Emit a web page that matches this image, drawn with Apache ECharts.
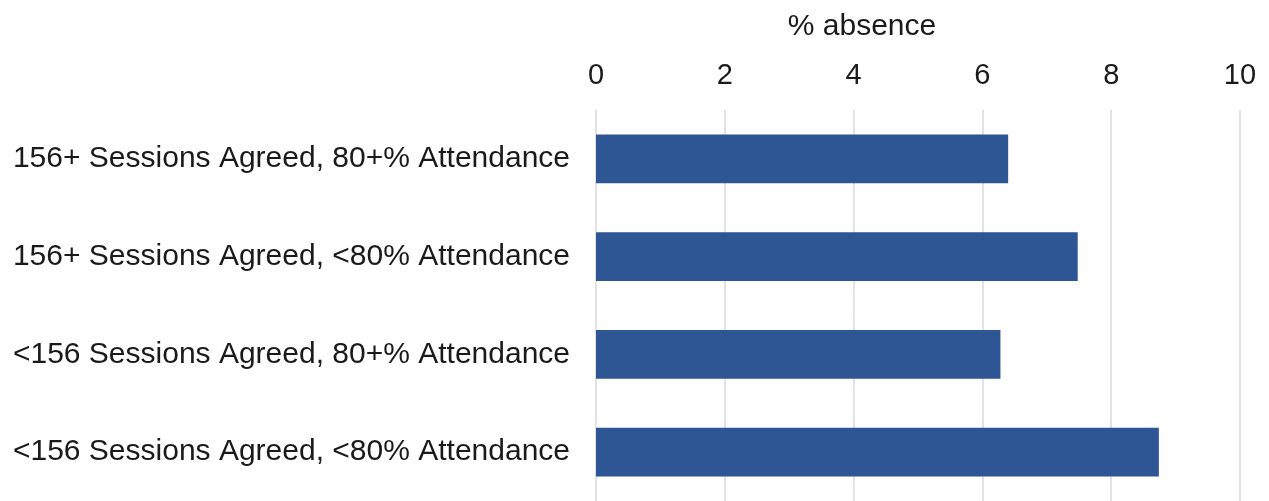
<!DOCTYPE html>
<html>
<head>
<meta charset="utf-8">
<script src="https://cdn.jsdelivr.net/npm/echarts@6/dist/echarts.min.js"></script>
<style>
  html, body { margin: 0; padding: 0; background: #fff; }
  #chart { width: 1269px; height: 501px; }
</style>
</head>
<body>
<div id="chart"></div>
<script>
const categories = [
  "156+ Sessions Agreed, 80+% Attendance",
  "156+ Sessions Agreed, <80% Attendance",
  "<156 Sessions Agreed, 80+% Attendance",
  "<156 Sessions Agreed, <80% Attendance"
];
const absence = [6.4, 7.48, 6.28, 8.74];
const axisTitle = "% absence";

const font = "Liberation Sans, Arial, sans-serif";
const chart = echarts.init(document.getElementById("chart"));

chart.setOption({
  backgroundColor: "#ffffff",
  animation: false,
  title: {
    text: axisTitle,
    left: 857,
    top: 7,
    textAlign: "center",
    textStyle: { fontFamily: font, fontSize: 30, fontWeight: "normal", color: "#1a1a1a" }
  },
  grid: { left: 596, right: 29, top: 110, bottom: 0 },
  xAxis: {
    type: "value",
    position: "top",
    min: 0,
    max: 10,
    interval: 2,
    axisLine: { show: false },
    axisTick: { show: false },
    axisLabel: { fontFamily: font, fontSize: 29, color: "#1a1a1a", margin: 20 },
    splitLine: { lineStyle: { color: "#d9d9d9", width: 1.5 } }
  },
  yAxis: {
    type: "category",
    inverse: true,
    data: categories,
    axisLine: { show: false },
    axisTick: { show: false },
    axisLabel: { fontFamily: font, fontSize: 30, color: "#1a1a1a", margin: 26 }
  },
  series: [
    {
      type: "bar",
      data: absence,
      barWidth: "50%",
      itemStyle: { color: "#2e5594" }
    }
  ]
});
</script>
</body>
</html>
